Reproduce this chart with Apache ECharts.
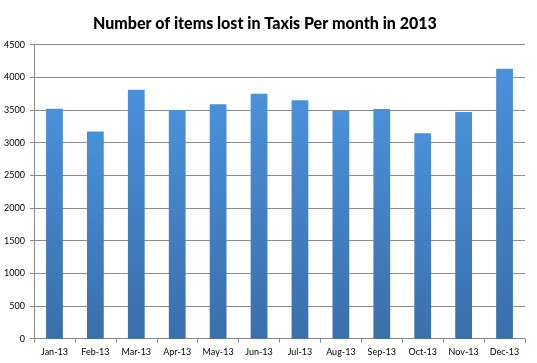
<!DOCTYPE html>
<html>
<head>
<meta charset="utf-8">
<script src="https://cdn.jsdelivr.net/npm/echarts@6/dist/echarts.min.js"></script>
<style>html,body{margin:0;padding:0;background:#fff}#c{width:537px;height:363px}</style>
</head>
<body>
<div id="c"></div>
<script>
var categories = ['Jan-13','Feb-13','Mar-13','Apr-13','May-13','Jun-13','Jul-13','Aug-13','Sep-13','Oct-13','Nov-13','Dec-13'];
var itemsLost = [3520, 3170, 3810, 3500, 3590, 3750, 3650, 3490, 3515, 3145, 3470, 4130];
var yTicks = {min: 0, max: 4500, interval: 500};
var titleText = 'Number of items lost in Taxis Per month in 2013';

var chart = echarts.init(document.getElementById('c'), null, {renderer: 'canvas'});
chart.setOption({
  animation: false,
  backgroundColor: '#fff',
  title: {
    text: titleText,
    left: 88,
    top: 11,
    textStyle: {fontFamily: 'Lato', fontWeight: 900, fontSize: 16, color: '#000'}
  },
  grid: {left: 34, right: 12, top: 44.7, bottom: 24.3, containLabel: false},
  xAxis: {
    type: 'category',
    data: categories,
    axisLine: {lineStyle: {color: '#888', width: 1}},
    axisTick: {show: true, length: 4, lineStyle: {color: '#888'}},
    axisLabel: {fontFamily: 'Lato', fontSize: 9, color: '#000', margin: 9, interval: 0}
  },
  yAxis: {
    type: 'value',
    min: yTicks.min, max: yTicks.max, interval: yTicks.interval,
    axisLine: {show: true, lineStyle: {color: '#888', width: 1}},
    axisTick: {show: true, length: 4, lineStyle: {color: '#888'}},
    axisLabel: {fontFamily: 'Lato', fontSize: 9, color: '#000', margin: 9,
      formatter: function (v) { return String(v); }},
    splitLine: {lineStyle: {color: '#8c8c8c', width: 1}}
  },
  series: [{
    type: 'bar',
    data: itemsLost,
    barWidth: '41%',
    itemStyle: {
      color: new echarts.graphic.LinearGradient(0, 0, 0, 1, [
        {offset: 0, color: '#4a90da'},
        {offset: 1, color: '#3a6fab'}
      ])
    }
  }]
});
</script>
</body>
</html>
